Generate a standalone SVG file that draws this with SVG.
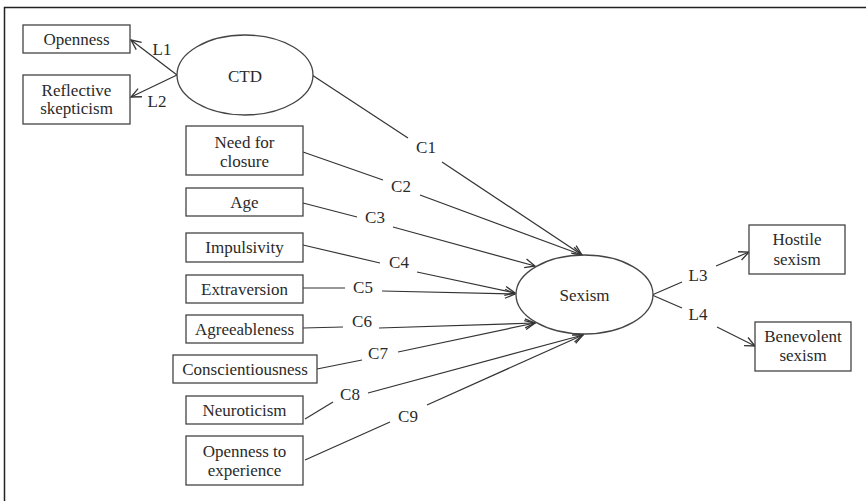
<svg xmlns="http://www.w3.org/2000/svg" width="866" height="501" viewBox="0 0 866 501">
<defs>
<marker id="arr" viewBox="0 0 12 12" refX="11" refY="6" markerWidth="12" markerHeight="12" markerUnits="userSpaceOnUse" orient="auto">
<path d="M1,1.5 L11,6 L1,10.5" fill="none" stroke="#333" stroke-width="1.3"/>
</marker>
<style>
.box{fill:#fff;stroke:#444;stroke-width:1.3}
.ell{fill:#fff;stroke:#444;stroke-width:1.3}
.t{font-family:"Liberation Serif","Times New Roman",serif;font-size:17px;fill:#2a2a2a;text-anchor:middle}
.ln{fill:none;stroke:#333;stroke-width:1.2}
.ar{fill:none;stroke:#333;stroke-width:1.2;marker-end:url(#arr)}
</style>
</defs>
<rect width="866" height="501" fill="#fff"/>
<path d="M4.5,501 V7.5 H866" fill="none" stroke="#222" stroke-width="1.5"/>

<g id="connectors">
<line class="ar" x1="177" y1="75" x2="131" y2="40"/>
<line class="ar" x1="177" y1="75" x2="131" y2="97"/>
<line class="ln" x1="312" y1="75" x2="408" y2="138"/>
<line class="ar" x1="442" y1="162" x2="582" y2="255"/>
<line class="ln" x1="303" y1="152" x2="383" y2="180"/>
<line class="ar" x1="420" y1="195" x2="582" y2="255"/>
<line class="ln" x1="303" y1="203" x2="357" y2="217"/>
<line class="ar" x1="393" y1="227" x2="535" y2="266"/>
<line class="ln" x1="303" y1="245" x2="380" y2="263"/>
<line class="ar" x1="417" y1="272" x2="515" y2="293"/>
<line class="ln" x1="303" y1="288" x2="345" y2="288"/>
<line class="ar" x1="382" y1="291" x2="515" y2="294"/>
<line class="ln" x1="303" y1="328" x2="343" y2="327"/>
<line class="ar" x1="379" y1="328" x2="535" y2="323"/>
<line class="ln" x1="317" y1="369" x2="362" y2="360"/>
<line class="ar" x1="398" y1="352" x2="535" y2="323"/>
<line class="ln" x1="305" y1="419" x2="333" y2="402"/>
<line class="ar" x1="368" y1="393" x2="583" y2="335"/>
<line class="ln" x1="305" y1="460" x2="390" y2="422"/>
<line class="ar" x1="427" y1="405" x2="583" y2="335"/>
<line class="ln" x1="652" y1="295" x2="682" y2="282"/>
<line class="ar" x1="716" y1="266" x2="749" y2="252"/>
<line class="ln" x1="652" y1="295" x2="682" y2="308"/>
<line class="ar" x1="717" y1="327" x2="755" y2="346"/>
<text class="t" x="162" y="55">L1</text>
<text class="t" x="157" y="107">L2</text>
<text class="t" x="426" y="153">C1</text>
<text class="t" x="401" y="192">C2</text>
<text class="t" x="375" y="223">C3</text>
<text class="t" x="399" y="268">C4</text>
<text class="t" x="363" y="293">C5</text>
<text class="t" x="362" y="327">C6</text>
<text class="t" x="378" y="359">C7</text>
<text class="t" x="350" y="400">C8</text>
<text class="t" x="408" y="422">C9</text>
<text class="t" x="698" y="281">L3</text>
<text class="t" x="698" y="320">L4</text>
</g>

<g id="openness"><rect class="box" x="23" y="25" width="107" height="28"/><text class="t" x="76.5" y="45">Openness</text></g>
<g id="reflective"><rect class="box" x="23" y="75" width="107" height="49"/><text class="t" x="76.5" y="96">Reflective</text><text class="t" x="76.5" y="114">skepticism</text></g>
<g id="ctd"><ellipse class="ell" cx="245" cy="75" rx="68" ry="40"/><text class="t" x="245" y="82">CTD</text></g>
<g id="need"><rect class="box" x="186" y="126" width="117" height="49"/><text class="t" x="244.5" y="148">Need for</text><text class="t" x="244.5" y="167">closure</text></g>
<g id="age"><rect class="box" x="186" y="188" width="117" height="28"/><text class="t" x="244.5" y="207.5">Age</text></g>
<g id="impulsivity"><rect class="box" x="186" y="233" width="117" height="29"/><text class="t" x="244.5" y="253">Impulsivity</text></g>
<g id="extraversion"><rect class="box" x="186" y="275" width="117" height="28"/><text class="t" x="244.5" y="294.5">Extraversion</text></g>
<g id="agreeableness"><rect class="box" x="186" y="315" width="117" height="28"/><text class="t" x="244.5" y="334.5">Agreeableness</text></g>
<g id="conscientiousness"><rect class="box" x="173" y="355" width="144" height="28"/><text class="t" x="245" y="374.5">Conscientiousness</text></g>
<g id="neuroticism"><rect class="box" x="186" y="396" width="117" height="28"/><text class="t" x="244.5" y="415.5">Neuroticism</text></g>
<g id="openexp"><rect class="box" x="186" y="436" width="117" height="49"/><text class="t" x="244.5" y="457">Openness to</text><text class="t" x="244.5" y="476">experience</text></g>
<g id="sexism"><ellipse class="ell" cx="584.5" cy="294.5" rx="68.5" ry="39.5"/><text class="t" x="584.5" y="301">Sexism</text></g>
<g id="hostile"><rect class="box" x="749" y="225" width="96" height="49"/><text class="t" x="797" y="245">Hostile</text><text class="t" x="797" y="265">sexism</text></g>
<g id="benevolent"><rect class="box" x="755" y="322" width="96" height="49"/><text class="t" x="803" y="342">Benevolent</text><text class="t" x="803" y="361">sexism</text></g>
</svg>
